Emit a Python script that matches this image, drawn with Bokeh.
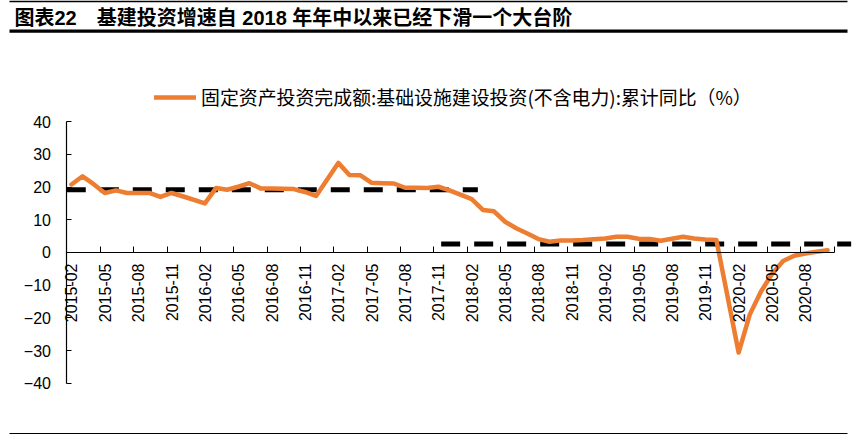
from math import pi
from bokeh.plotting import figure
from bokeh.models import (LinearAxis, FixedTicker, Range1d, Legend, LegendItem,
                          BoxAnnotation, ColumnDataSource, Label)
from bokeh.embed import file_html
from bokeh.resources import INLINE

# ---------------- data ----------------
title_text = "图表22　基建投资增速自 2018 年年中以来已经下滑一个大台阶"
series_name = "固定资产投资完成额:基础设施建设投资(不含电力):累计同比（%）"

months = (
    ["2015-%02d" % m for m in range(2, 13)]
    + ["2016-%02d" % m for m in range(2, 13)]
    + ["2017-%02d" % m for m in range(2, 13)]
    + ["2018-%02d" % m for m in range(2, 13)]
    + ["2019-%02d" % m for m in range(2, 13)]
    + ["2020-%02d" % m for m in range(2, 11)]
)
values_2015 = [20.8, 23.3, 20.9, 18.2, 19.0, 18.2, 18.2, 18.2, 17.0, 18.2, 17.2]
values_2016 = [15.0, 19.7, 19.2, 20.1, 21.2, 19.6, 19.6, 19.5, 19.4, 18.5, 17.3]
values_2017 = [27.4, 23.7, 23.6, 21.3, 21.2, 21.1, 19.8, 19.8, 19.7, 20.1, 19.0]
values_2018 = [16.3, 13.0, 12.6, 9.4, 7.4, 5.8, 4.1, 3.3, 3.7, 3.7, 3.8]
values_2019 = [4.3, 4.8, 4.8, 4.2, 4.1, 3.6, 4.2, 4.8, 4.3, 4.0, 3.8]
values_2020 = [-30.6, -19.0, -12.0, -6.6, -2.6, -1.0, -0.3, 0.2, 0.7]
values = values_2015 + values_2016 + values_2017 + values_2018 + values_2019 + values_2020

tick_labels = ["2015-02", "2015-05", "2015-08", "2015-11", "2016-02", "2016-05",
               "2016-08", "2016-11", "2017-02", "2017-05", "2017-08", "2017-11",
               "2018-02", "2018-05", "2018-08", "2018-11", "2019-02", "2019-05",
               "2019-08", "2019-11", "2020-02", "2020-05", "2020-08"]

# average-level guide lines: level and extent (in month index units)
guide_levels = [19.2, 2.6]
guide_starts = [-0.42, 33.25]
guide_ends = [36.55, 70.12]

y_ticks = [-40, -30, -20, -10, 0, 10, 20, 30, 40]


def month_index(s):
    y, m = s.split("-")
    return (int(y) - 2015) * 12 + int(m) - 2


xs = [month_index(s) for s in months]

# ---------------- figure ----------------
ORANGE = "#ED7D31"
W, H = 860, 434
p = figure(width=W, height=H, output_backend="svg", toolbar_location=None,
           x_axis_location=None, y_axis_location=None,
           x_range=Range1d(-6.38, 70.96), y_range=Range1d(-55.66, 77.06),
           min_border=0, min_border_left=0, min_border_right=0,
           min_border_top=0, min_border_bottom=0)
p.grid.visible = False
p.outline_line_color = None
p.background_fill_color = "white"
p.border_fill_color = "white"
p.title.visible = False


def rule(x0, x1, y_top, y_bottom):
    # y given in canvas pixels from the top; converted to screen (from bottom)
    p.add_layout(BoxAnnotation(left=x0, right=x1, top=H - y_top, bottom=H - y_bottom,
                               left_units="screen", right_units="screen",
                               top_units="screen", bottom_units="screen",
                               fill_color="black", fill_alpha=1, line_color=None,
                               level="overlay"))


rule(9, 847, 0.0, 1.8)
rule(9, 847, 29.0, 32.2)
rule(9, 847, 432.4, 434.0)

# title
p.add_layout(Label(x=14, y=H - 17, x_units="screen", y_units="screen",
                   text=title_text, text_font="Liberation Sans, Noto Sans CJK SC",
                   text_font_size="20px", text_font_style="bold",
                   text_color="black", text_baseline="alphabetic",
                   text_align="left"))

# guides
for lvl, x0, x1 in zip(guide_levels, guide_starts, guide_ends):
    p.line([x0, x1], [lvl, lvl], line_color="black", line_width=5,
           line_dash="19 14", line_cap="butt")

# series
src = ColumnDataSource(dict(x=xs, y=values))
r = p.line("x", "y", source=src, line_color=ORANGE, line_width=4.5,
           line_join="round", line_cap="round")

# y axis (drawn at the left edge of the plotting area)
yaxis = LinearAxis(ticker=FixedTicker(ticks=y_ticks), bounds=(-40, 40),
                   fixed_location=-0.4)
yaxis.axis_line_color = "black"
yaxis.axis_line_width = 1.2
yaxis.major_tick_in = 5
yaxis.major_tick_out = 0
yaxis.minor_tick_line_color = None
yaxis.major_label_standoff = 16
yaxis.major_label_text_font = "Liberation Sans"
yaxis.major_label_text_font_size = "16px"
yaxis.major_label_text_color = "black"
p.add_layout(yaxis, "left")

# x axis at y=0 : ticks (between categories)
label_pos = [month_index(s) for s in tick_labels]
tick_pos = [v - 0.4 for v in label_pos] + [label_pos[-1] + 3 - 0.4]
xaxis_t = LinearAxis(ticker=FixedTicker(ticks=tick_pos), fixed_location=0,
                     bounds=(-0.4, tick_pos[-1]))
xaxis_t.axis_line_color = "black"
xaxis_t.axis_line_width = 1.2
xaxis_t.major_tick_in = 6
xaxis_t.major_tick_out = 0
xaxis_t.minor_tick_line_color = None
xaxis_t.major_label_overrides = {t: "" for t in tick_pos}
p.add_layout(xaxis_t, "below")

# x axis labels centred on categories
xaxis_l = LinearAxis(ticker=FixedTicker(ticks=label_pos), fixed_location=0)
xaxis_l.axis_line_color = None
xaxis_l.major_tick_line_color = None
xaxis_l.minor_tick_line_color = None
xaxis_l.major_tick_in = 0
xaxis_l.major_tick_out = 0
xaxis_l.major_label_overrides = {pos: lab for pos, lab in zip(label_pos, tick_labels)}
xaxis_l.major_label_orientation = pi / 2
xaxis_l.major_label_standoff = 11
xaxis_l.major_label_text_font = "Liberation Sans"
xaxis_l.major_label_text_font_size = "16px"
xaxis_l.major_label_text_color = "black"
p.add_layout(xaxis_l, "below")

# legend
legend = Legend(items=[LegendItem(label=series_name, renderers=[r])],
                location=(154, 324), orientation="horizontal")
legend.glyph_width = 42
legend.glyph_height = 20
legend.label_height = 20
legend.label_standoff = 5
legend.padding = 0
legend.margin = 0
legend.spacing = 0
legend.border_line_color = None
legend.background_fill_alpha = 0
legend.label_text_font = "Noto Sans CJK SC"
legend.label_text_font_size = "18.9px"
legend.label_text_color = "black"
p.add_layout(legend)

open("out.html", "w").write(file_html(p, INLINE))
